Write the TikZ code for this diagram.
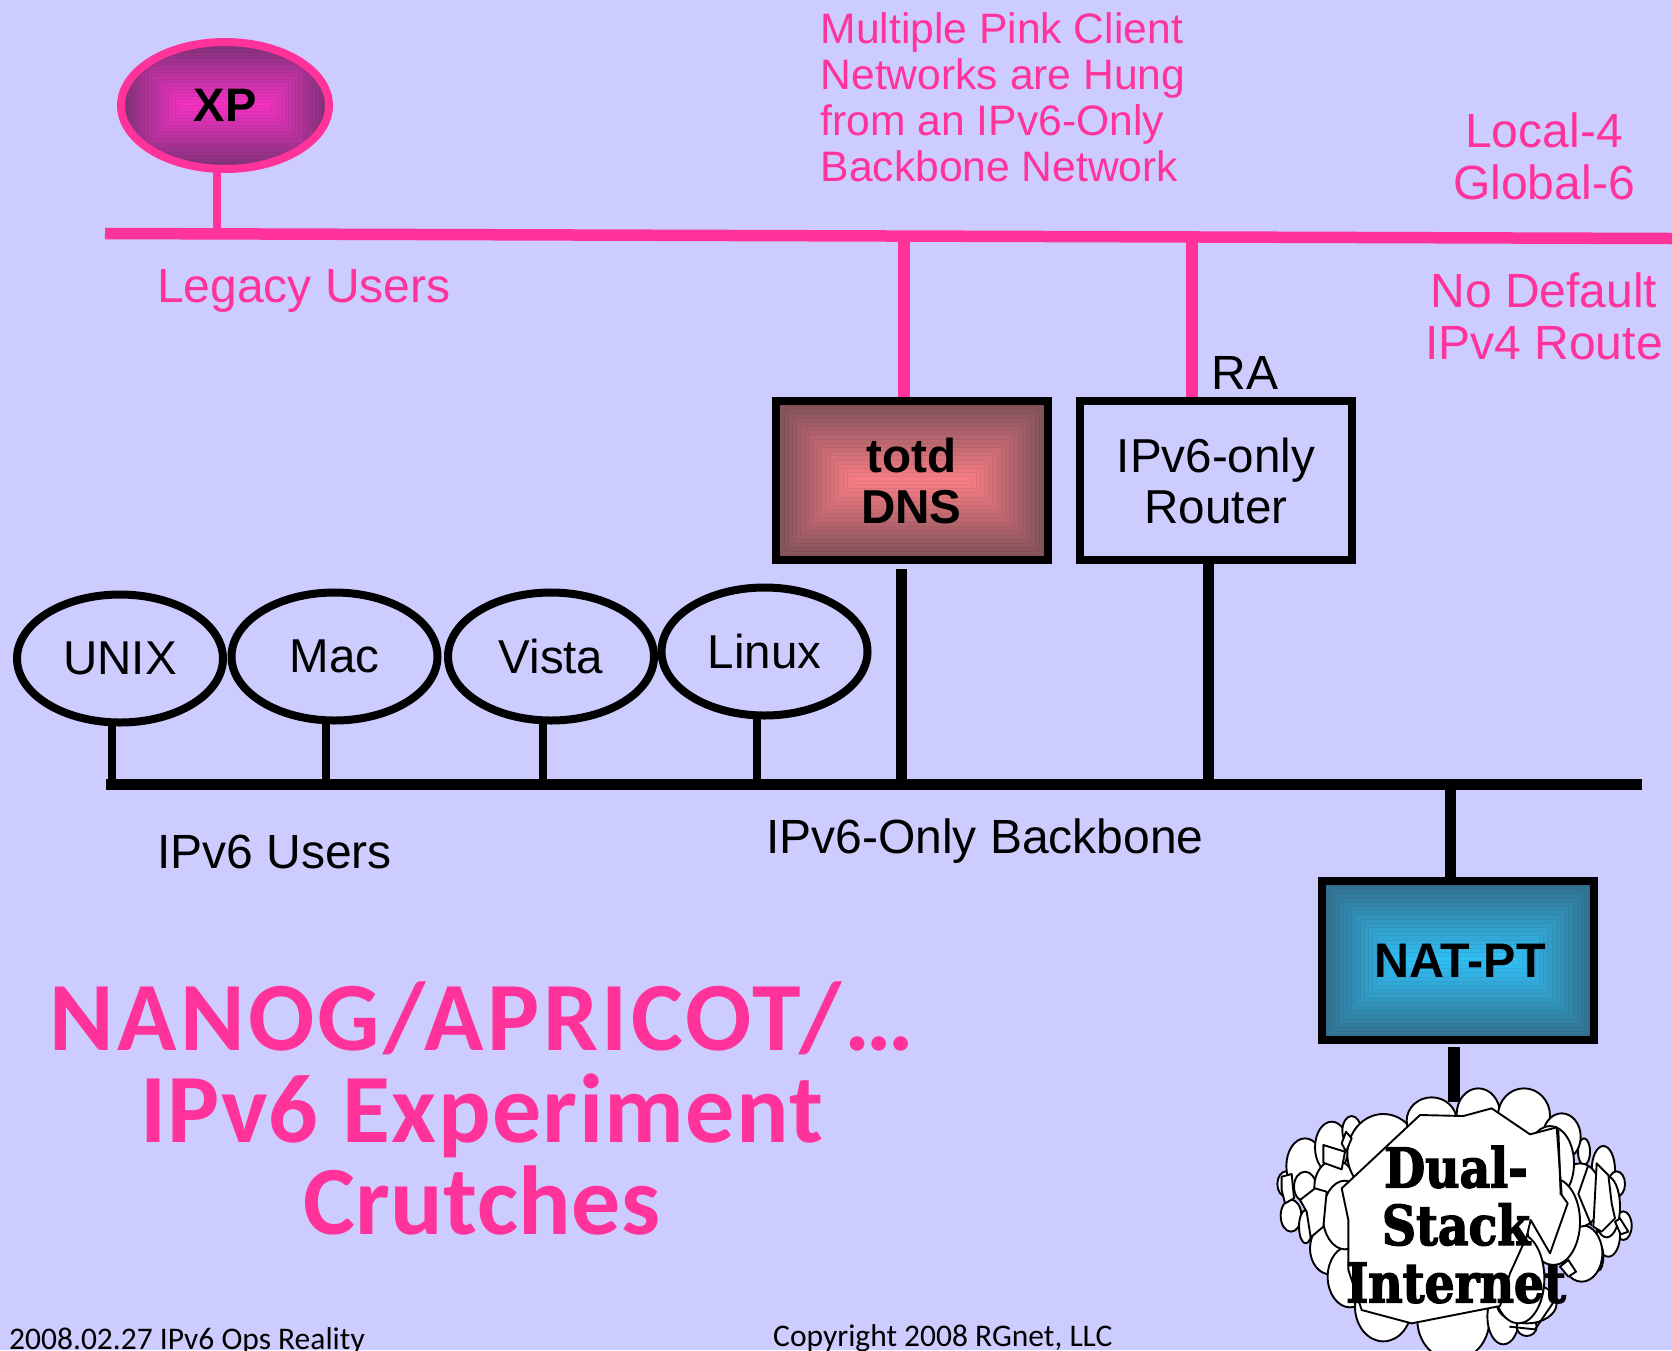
\documentclass[tikz,border=0pt]{standalone}
\usepackage{fontspec}
\setmainfont{Liberation Sans}
\newfontfamily\comicfont{Carlito}
\newfontfamily\cloudfont[FakeStretch=0.86,FakeBold=2.4]{DejaVu Serif Bold}
\usetikzlibrary{shapes.geometric}
\definecolor{bgc}{HTML}{CCCCFF}
\definecolor{pinkc}{HTML}{FF3399}
\definecolor{xpo}{RGB}{125,50,120}
\definecolor{xpi}{RGB}{250,50,200}
\definecolor{dnso}{RGB}{125,80,90}
\definecolor{dnsi}{RGB}{255,128,135}
\definecolor{nato}{RGB}{50,110,140}
\definecolor{nati}{RGB}{50,195,250}
\newcommand\fsz[2]{\fontsize{#1}{#2}\selectfont}
\newcommand\bands[3]{%
  \foreach \t in {0,...,19}{%
    \pgfmathsetmacro\dd{\t*#3/19}%
    \pgfmathsetmacro\pp{\t*100/19}%
    \filldraw[fill=#2!\pp!#1,draw=#2!\pp!#1!93!black,line width=0.7pt] ([shift={(\dd pt,\dd pt)}]path picture bounding box.south west)
      rectangle ([shift={(-\dd pt,-\dd pt)}]path picture bounding box.north east);
  }}
\newcommand\cl[4]{\filldraw[cloudline] (#1,#2) ellipse [x radius=#3, y radius=#4];}
\tikzset{
  blackbus/.style={draw=black,line width=11pt},
  pinkbus/.style={draw=pinkc,line width=11.5pt},
  blackstem/.style={draw=black,line width=8pt},
  pinkstem/.style={draw=pinkc,line width=8pt},
  bighost/.style={ellipse,draw=black,line width=8pt,minimum width=206pt,minimum height=128pt,inner sep=0pt,font=\fsz{47.5}{51}},
  boxn/.style={rectangle,draw=black,line width=8pt,minimum width=272pt,minimum height=159pt,inner sep=0pt,align=center,font=\fsz{47.6}{51}},
  lblpink/.style={text=pinkc,inner sep=0pt,font=\fsz{48}{52}},
  lblblack/.style={text=black,inner sep=0pt,font=\fsz{48}{52}},
  cloudline/.style={draw=black,fill=white,line width=1.9pt,line join=round},
  titletext/.style={text=pinkc,inner sep=0pt,align=center,font=\comicfont\bfseries\fsz{98}{92}},
  foot/.style={text=black,inner sep=0pt,anchor=base west,font=\comicfont\fsz{31.5}{34}},
}
\begin{document}
\begin{tikzpicture}[x=1pt,y=-1pt]
\useasboundingbox (0,0) rectangle (1672,1350);
\fill[bgc] (0,0) rectangle (1672,1350);

% coordinates on the buses
\coordinate (pinkL) at (105,233.5);
\coordinate (pinkR) at (1672,238.5);
\coordinate (backL) at (106,784);
\coordinate (backR) at (1642,784);
\coordinate (tapXP) at (217,233);
\coordinate (tapDnsP) at (904,236);
\coordinate (tapRtrP) at (1192,237);
\coordinate (tapU) at (112,784);
\coordinate (tapM) at (325.5,784);
\coordinate (tapV) at (543,784);
\coordinate (tapL) at (756.5,784);
\coordinate (tapDns) at (901.5,788);
\coordinate (dnsLow) at (901.5,569);
\coordinate (tapRtr) at (1208.5,789);
\coordinate (tapNat) at (1450,784);
\coordinate (natLow) at (1454,1047);
\coordinate (cloudTop) at (1454,1102);

% cloud
\begin{scope}[shift={(1240,1040)},x=0.33333pt,y=-0.33333pt]
\cl{138}{432}{26}{38}
\cl{153}{527}{31}{48}
\cl{195}{378}{56}{83}
\cl{195}{440}{33}{45}
\cl{275}{322}{50}{77}
\cl{335}{272}{28}{44}
\cl{197}{560}{20}{50}
\cl{270}{625}{60}{78}
\cl{285}{440}{62}{80}
\cl{330}{710}{67}{92}
\cl{315}{525}{67}{103}
\cl{430}{342}{108}{120}
\cl{430}{800}{85}{104}
\cl{640}{840}{108}{120}
\cl{790}{830}{48}{83}
\cl{860}{860}{30}{28}
\cl{860}{790}{90}{60}
\cl{575}{242}{75}{70}
\cl{715}{222}{65}{77}
\cl{852}{227}{78}{82}
\cl{1032}{335}{18}{40}
\cl{965}{290}{57}{70}
\cl{1090}{390}{35}{72}
\cl{1130}{432}{25}{38}
\cl{1150}{557}{25}{43}
\cl{1105}{585}{35}{65}
\cl{1075}{650}{15}{42}
\cl{1100}{500}{40}{92}
\cl{1025}{640}{62}{85}
\cl{1020}{465}{65}{95}
\cl{930}{370}{72}{112}
\cl{940}{545}{80}{130}
\cl{835}{715}{78}{135}
% small facets, left
\filldraw[cloudline] (250,315) -- (315,335) -- (305,388) -- (250,368) -- cycle;
\filldraw[cloudline] (305,310) -- (318,275) -- (335,295) -- (318,335) -- cycle;
\filldraw[cloudline] (125,410) -- (155,402) -- (162,475) -- (135,490) -- (125,450) -- cycle;
\filldraw[cloudline] (180,480) -- (225,445) -- (260,455) -- (250,560) -- (212,592) -- (200,515) -- cycle;
% small facets, right
\filldraw[cloudline] (1070,370) -- (1105,405) -- (1115,490) -- (1125,535) -- (1085,575) -- (1060,560) -- cycle;
\filldraw[cloudline] (1125,545) -- (1140,535) -- (1165,575) -- (1142,583) -- cycle;
\filldraw[cloudline] (960,680) -- (985,660) -- (1008,695) -- (985,710) -- cycle;
\draw[cloudline,fill=none] (1045,375) -- (1015,462) -- (1055,558);
\draw[cloudline,fill=none] (808,860) -- (885,868) -- (945,780);
% central facet
\filldraw[cloudline] (305,445) -- (540,225) -- (670,228) -- (755,205) -- (870,283) -- (950,262) -- (965,465) -- (983,490) -- (930,640) -- (872,540) -- (860,590) -- (810,700) -- (780,798) -- (515,850) -- (365,810) -- (325,690) -- (325,540) -- cycle;
\draw[cloudline,fill=none] (955,270) -- (962,465);
\end{scope}
\node[inner sep=0pt,align=center,font=\cloudfont\fsz{55}{57.5}] (cloudLabel) at (1456,1224.5) {Dual-\\Stack\\Internet};

% buses
\draw[pinkbus] (pinkL) -- (pinkR);
\draw[blackbus] (backL) -- (backR);

% nodes
\node[bighost,draw=pinkc,minimum width=208pt,minimum height=127pt,
  path picture={\bands{xpo}{xpi}{64}},font=\bfseries\fsz{47}{51}] (XP) at (225,105.5) {XP};
\node[boxn,path picture={\bands{dnso}{dnsi}{80}},font=\bfseries\fsz{47.6}{51}] (totd) at (911.5,480.5) {totd\\DNS};
\node[boxn] (router) at (1216,480.5) {IPv6-only\\Router};
\node[boxn,path picture={\bands{nato}{nati}{80}},font=\bfseries\fsz{48.5}{51}] (nat) at (1458,960.5) {\hspace*{4pt}NAT-PT};
\node[bighost] (unix) at (120,658.5) {UNIX};
\node[bighost] (mac) at (334.5,656.5) {Mac};
\node[bighost] (vista) at (551,656.5) {Vista};
\node[bighost] (linux) at (764.5,651.5) {Linux};

% connectors
\draw[pinkstem] (tapXP) -- ([yshift=6pt]tapXP |- XP.south);
\draw[pinkbus] (tapDnsP) -- (tapDnsP |- totd.north);
\draw[pinkbus] (tapRtrP) -- (tapRtrP |- router.north);
\draw[blackstem] (tapU) -- ([yshift=6pt]tapU |- unix.south);
\draw[blackstem] (tapM) -- ([yshift=6pt]tapM |- mac.south);
\draw[blackstem] (tapV) -- ([yshift=6pt]tapV |- vista.south);
\draw[blackstem] (tapL) -- ([yshift=6pt]tapL |- linux.south);
\draw[blackbus] (tapDns) -- (dnsLow);
\draw[blackbus,line width=11.5pt] (tapRtr) -- ([yshift=6pt]tapRtr |- router.south);
\draw[blackbus] (tapNat) -- (tapNat |- nat.north);
\draw[blackbus,line width=12.5pt] (natLow) -- (cloudTop);

% labels
\node[lblpink,font=\fsz{42.6}{46},align=left,anchor=base west] (note) at (820.5,181) {Multiple Pink Client\\Networks are Hung\\from an IPv6-Only\\Backbone Network};
\node[lblpink,align=center] (local) at (1544,156) {Local-4\\Global-6};
\node[lblpink,align=center] (nodef) at (1544,316) {No Default\\IPv4 Route};
\node[lblpink,anchor=base west] (legacy) at (157,302) {Legacy Users};
\node[lblblack,anchor=base west] (ra) at (1211.5,389) {RA};
\node[lblblack,anchor=base west] (v6users) at (157,868) {IPv6 Users};
\node[lblblack,anchor=base west] (bb) at (766,853) {IPv6-Only Backbone};
\node[titletext] (title) at (482,1108) {{\addfontfeatures{LetterSpace=3.4}NANOG/APRICOT/…}\\{\addfontfeatures{LetterSpace=1.5}IPv6 Experiment}\\{\addfontfeatures{LetterSpace=0.5}Crutches}};
\node[foot] (date) at (9,1349) {2008.02.27 IPv6 Ops Reality};
\node[foot] (copy) at (773,1346) {Copyright 2008 RGnet, LLC};
\end{tikzpicture}
\end{document}
